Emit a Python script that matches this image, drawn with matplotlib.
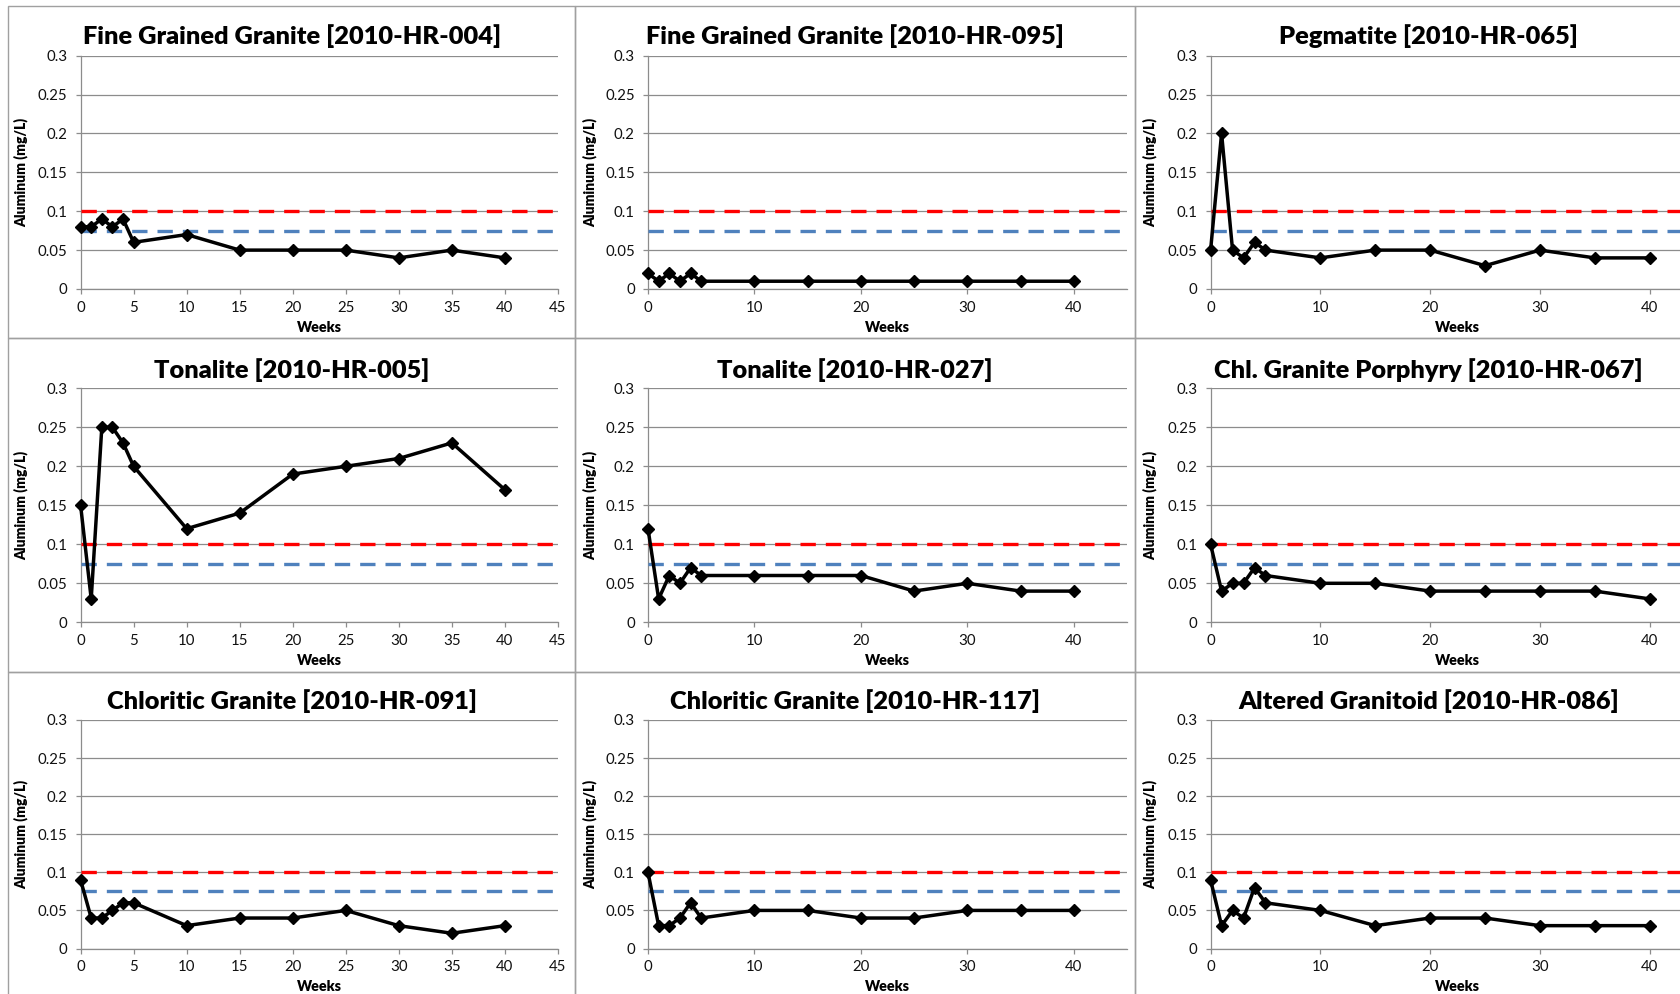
import numpy as np
import matplotlib.pyplot as plt
from matplotlib.patches import Rectangle
from matplotlib.ticker import MultipleLocator, FuncFormatter

plt.rcParams['font.family'] = ['Lato', 'DejaVu Sans']

W, H = 1681, 994

# sampling weeks (same for every sample)
weeks = [0, 1, 2, 3, 4, 5, 10, 15, 20, 25, 30, 35, 40]

al_004 = [0.08, 0.08, 0.09, 0.08, 0.09, 0.06, 0.07, 0.05, 0.05, 0.05, 0.04, 0.05, 0.04]
al_095 = [0.02, 0.01, 0.02, 0.01, 0.02, 0.01, 0.01, 0.01, 0.01, 0.01, 0.01, 0.01, 0.01]
al_065 = [0.05, 0.20, 0.05, 0.04, 0.06, 0.05, 0.04, 0.05, 0.05, 0.03, 0.05, 0.04, 0.04]
al_005 = [0.15, 0.03, 0.25, 0.25, 0.23, 0.20, 0.12, 0.14, 0.19, 0.20, 0.21, 0.23, 0.17]
al_027 = [0.12, 0.03, 0.06, 0.05, 0.07, 0.06, 0.06, 0.06, 0.06, 0.04, 0.05, 0.04, 0.04]
al_067 = [0.10, 0.04, 0.05, 0.05, 0.07, 0.06, 0.05, 0.05, 0.04, 0.04, 0.04, 0.04, 0.03]
al_091 = [0.09, 0.04, 0.04, 0.05, 0.06, 0.06, 0.03, 0.04, 0.04, 0.05, 0.03, 0.02, 0.03]
al_117 = [0.10, 0.03, 0.03, 0.04, 0.06, 0.04, 0.05, 0.05, 0.04, 0.04, 0.05, 0.05, 0.05]
al_086 = [0.09, 0.03, 0.05, 0.04, 0.08, 0.06, 0.05, 0.03, 0.04, 0.04, 0.03, 0.03, 0.03]

titles = ["Fine Grained Granite [2010-HR-004]", "Fine Grained Granite [2010-HR-095]",
          "Pegmatite [2010-HR-065]", "Tonalite [2010-HR-005]", "Tonalite [2010-HR-027]",
          "Chl. Granite Porphyry [2010-HR-067]", "Chloritic Granite [2010-HR-091]",
          "Chloritic Granite [2010-HR-117]", "Altered Granitoid [2010-HR-086]"]
series = [al_004, al_095, al_065, al_005, al_027, al_067, al_091, al_117, al_086]

# guideline levels, drawn across the whole x range
red_limit = 0.1
blue_limit = 0.075
x_range = [0, 45]

# layout in pixels
col_axes = [(80.6, 557.9), (648, 1127), (1210.6, 1704.6)]
row_axes = [(55.7, 289), (388.3, 622.3), (720, 948.5)]
col_edges = [8.3, 575, 1134.7, 1722]
row_edges = [5.7, 338, 671.7, 1005]
title_base = [44, 377.7, 709.3]
weeks_base = [332.5, 665, 991]
ylab_x = [21, 590, 1150]
x_steps = [5, 10, 10]

fig = plt.figure(figsize=(W / 100, H / 100), dpi=100)
fig.patch.set_facecolor('white')

# chart area borders
for r in range(3):
    for c in range(3):
        x0, x1 = col_edges[c], col_edges[c + 1]
        y0, y1 = row_edges[r], row_edges[r + 1]
        fig.add_artist(Rectangle((x0 / W, 1 - y1 / H), (x1 - x0) / W, (y1 - y0) / H,
                                 transform=fig.transFigure, fill=False,
                                 edgecolor='#a0a0a0', lw=1.0, zorder=0))

for i, vals in enumerate(series):
    r, c = divmod(i, 3)
    x0, x1 = col_axes[c]
    ytop, ybot = row_axes[r]
    ax = fig.add_axes([x0 / W, 1 - ybot / H, (x1 - x0) / W, (ybot - ytop) / H])
    ax.set_xlim(x_range)
    ax.set_ylim(0, 0.3)
    ax.yaxis.set_major_locator(MultipleLocator(0.05))
    ax.xaxis.set_major_locator(MultipleLocator(x_steps[c]))
    ax.yaxis.set_major_formatter(FuncFormatter(lambda v, p: f"{v:g}"))
    ax.grid(axis='y', color='#8c8c8c', lw=0.9)
    ax.set_axisbelow(True)
    for s in ['top', 'right']:
        ax.spines[s].set_visible(False)
    for s in ['left', 'bottom']:
        ax.spines[s].set_color('#8c8c8c')
        ax.spines[s].set_linewidth(0.9)
    ax.tick_params(color='#8c8c8c', labelcolor='#111111', length=3.5, width=0.9, labelsize=10.8)
    ax.tick_params(axis='y', pad=6)
    ax.tick_params(axis='x', pad=5)

    ax.plot(x_range, [red_limit] * 2, color='#ff0000', lw=2.4, dashes=(4.6, 3.0),
            dash_capstyle='butt', zorder=3, clip_on=False)
    ax.plot(x_range, [blue_limit] * 2, color='#4f81bd', lw=2.4, dashes=(4.6, 3.0),
            dash_capstyle='butt', zorder=3, clip_on=False)
    ax.plot(weeks, vals, color='black', lw=2.5, marker='D', ms=6, zorder=5, clip_on=False)

    fig.text(((col_edges[c] + col_edges[c + 1]) / 2) / W, 1 - title_base[r] / H, titles[i],
             ha='center', va='baseline', fontsize=18.3, fontweight='heavy')
    fig.text(((x0 + x1) / 2) / W, 1 - weeks_base[r] / H, "Weeks",
             ha='center', va='baseline', fontsize=10.3, fontweight='heavy')
    fig.text(ylab_x[c] / W, 1 - ((ytop + ybot) / 2) / H, "Aluminum (mg/L)", rotation=90,
             ha='center', va='center', fontsize=10, fontweight='heavy')

fig.savefig("out.png", dpi=100)
